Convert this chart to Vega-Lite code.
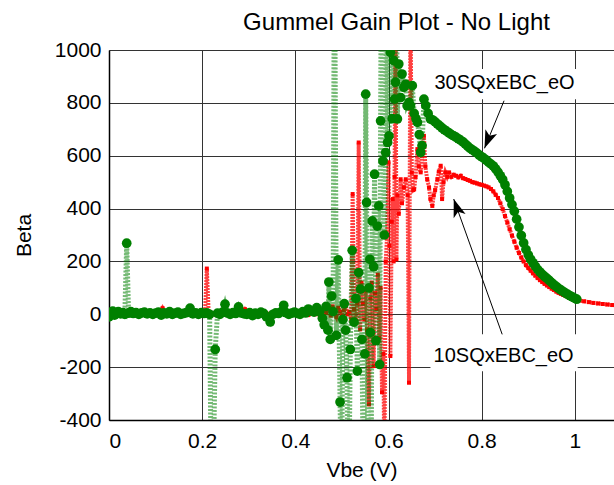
{
  "$schema": "https://vega.github.io/schema/vega-lite/v6.json",
  "autosize": "none",
  "width": 505,
  "height": 370,
  "padding": {"left": 109, "top": 50, "right": 0, "bottom": 65},
  "background": "white",
  "config": {
    "view": {"stroke": null},
    "font": "Liberation Sans",
    "axis": {
      "labelFont": "Liberation Sans", "labelFontSize": 21, "labelColor": "black",
      "titleFont": "Liberation Sans", "titleFontSize": 21, "titleFontWeight": "normal", "titleColor": "black",
      "ticks": false, "gridColor": "#333333", "gridOpacity": 1, "gridWidth": 1,
      "domainColor": "black", "domainWidth": 1.5
    }
  },
  "title": {"text": "Gummel Gain Plot - No Light", "font": "Liberation Sans", "fontSize": 24, "fontWeight": "normal", "color": "black", "anchor": "middle", "dx": 35, "offset": 4},
  "datasets": {
    "green": [
      {"x":0,"y":-10},{"x":0.004,"y":8},{"x":0.008,"y":12},{"x":0.012,"y":-3},{"x":0.016,"y":5},{"x":0.02,"y":10},{"x":0.025,"y":2},{"x":0.03,"y":6},{"x":0.034,"y":0},{"x":0.038,"y":269},{"x":0.042,"y":4},{"x":0.047,"y":10},{"x":0.052,"y":3},{"x":0.058,"y":6},{"x":0.064,"y":0},{"x":0.07,"y":5},{"x":0.076,"y":8},{"x":0.082,"y":2},{"x":0.088,"y":5},{"x":0.094,"y":0},{"x":0.1,"y":4},{"x":0.106,"y":8},{"x":0.112,"y":-3},{"x":0.118,"y":5},{"x":0.124,"y":2},{"x":0.13,"y":10},{"x":0.136,"y":0},{"x":0.142,"y":4},{"x":0.148,"y":8},{"x":0.154,"y":0},{"x":0.16,"y":3},{"x":0.166,"y":6},{"x":0.174,"y":23},{"x":0.18,"y":2},{"x":0.186,"y":5},{"x":0.192,"y":0},{"x":0.198,"y":6},{"x":0.204,"y":3},{"x":0.21,"y":5},{"x":0.216,"y":0},{"x":0.221,"y":-900},{"x":0.228,"y":-133},{"x":0.233,"y":4},{"x":0.238,"y":0},{"x":0.244,"y":8},{"x":0.249,"y":38},{"x":0.254,"y":5},{"x":0.26,"y":0},{"x":0.266,"y":6},{"x":0.272,"y":3},{"x":0.278,"y":28},{"x":0.284,"y":5},{"x":0.29,"y":2},{"x":0.296,"y":0},{"x":0.302,"y":6},{"x":0.308,"y":-5},{"x":0.314,"y":4},{"x":0.32,"y":0},{"x":0.326,"y":8},{"x":0.332,"y":3},{"x":0.338,"y":-10},{"x":0.346,"y":-29},{"x":0.352,"y":0},{"x":0.358,"y":5},{"x":0.364,"y":3},{"x":0.37,"y":10},{"x":0.375,"y":34},{"x":0.38,"y":6},{"x":0.386,"y":0},{"x":0.392,"y":4},{"x":0.398,"y":8},{"x":0.404,"y":3},{"x":0.41,"y":0},{"x":0.416,"y":10},{"x":0.422,"y":5},{"x":0.428,"y":20},{"x":0.434,"y":12},{"x":0.44,"y":8},{"x":0.446,"y":25},{"x":0.452,"y":10},
      {"x":0.458,"y":-15},{"x":0.462,"y":-40},{"x":0.466,"y":30},{"x":0.47,"y":-60},{"x":0.472,"y":122},{"x":0.475,"y":-95},{"x":0.478,"y":69},{"x":0.481,"y":10},{"x":0.484,"y":1500},{"x":0.488,"y":-80},{"x":0.492,"y":206},{"x":0.496,"y":-332},{"x":0.499,"y":-700},{"x":0.502,"y":-20},{"x":0.505,"y":40},{"x":0.508,"y":-60},{"x":0.511,"y":-240},{"x":0.514,"y":-800},{"x":0.518,"y":-133},{"x":0.522,"y":242},{"x":0.526,"y":-30},{"x":0.53,"y":60},{"x":0.533,"y":-215},{"x":0.536,"y":158},{"x":0.54,"y":95},{"x":0.543,"y":-95},{"x":0.546,"y":-700},{"x":0.549,"y":-150},{"x":0.551,"y":833},{"x":0.553,"y":423},{"x":0.556,"y":-700},{"x":0.558,"y":100},{"x":0.56,"y":208},{"x":0.561,"y":-69},{"x":0.563,"y":-500},{"x":0.565,"y":353},{"x":0.568,"y":180},{"x":0.57,"y":530},{"x":0.573,"y":-100},{"x":0.576,"y":334},{"x":0.579,"y":410},{"x":0.581,"y":-190},{"x":0.583,"y":732},{"x":0.585,"y":1500},{"x":0.588,"y":580},{"x":0.591,"y":300},{"x":0.594,"y":612},{"x":0.596,"y":1500},{"x":0.598,"y":650},{"x":0.601,"y":675},{"x":0.604,"y":991},{"x":0.606,"y":1500},{"x":0.608,"y":740},{"x":0.611,"y":960},{"x":0.613,"y":814},{"x":0.615,"y":878},{"x":0.617,"y":1300},{"x":0.619,"y":739},{"x":0.622,"y":947},{"x":0.626,"y":820},{"x":0.629,"y":909},{"x":0.633,"y":859},{"x":0.637,"y":871},{"x":0.64,"y":789},{"x":0.644,"y":802},{"x":0.647,"y":789},{"x":0.651,"y":865},{"x":0.655,"y":760},{"x":0.659,"y":740},{"x":0.662,"y":726},{"x":0.666,"y":680},{"x":0.669,"y":612},{"x":0.672,"y":638},{"x":0.676,"y":814},{"x":0.68,"y":790},
      {"x":0.685,"y":760},{"x":0.69,"y":739},{"x":0.695,"y":735},{"x":0.7,"y":728},{"x":0.705,"y":720},{"x":0.71,"y":713},{"x":0.715,"y":705},{"x":0.72,"y":698},{"x":0.725,"y":692},{"x":0.73,"y":686},{"x":0.735,"y":680},{"x":0.74,"y":675},{"x":0.745,"y":670},{"x":0.75,"y":664},{"x":0.755,"y":658},{"x":0.76,"y":652},{"x":0.765,"y":644},{"x":0.77,"y":636},{"x":0.775,"y":628},{"x":0.78,"y":622},{"x":0.785,"y":616},{"x":0.79,"y":610},{"x":0.795,"y":602},{"x":0.8,"y":596},{"x":0.805,"y":590},{"x":0.81,"y":583},{"x":0.815,"y":575},{"x":0.82,"y":568},{"x":0.825,"y":561},{"x":0.83,"y":550},{"x":0.835,"y":538},{"x":0.84,"y":524},{"x":0.845,"y":510},{"x":0.85,"y":490},{"x":0.855,"y":465},{"x":0.86,"y":440},{"x":0.865,"y":415},{"x":0.87,"y":390},{"x":0.875,"y":360},{"x":0.88,"y":330},{"x":0.885,"y":298},{"x":0.89,"y":270},{"x":0.895,"y":245},{"x":0.9,"y":225},{"x":0.905,"y":208},{"x":0.91,"y":195},{"x":0.915,"y":182},{"x":0.92,"y":170},{"x":0.925,"y":160},{"x":0.93,"y":151},{"x":0.935,"y":143},{"x":0.94,"y":136},{"x":0.945,"y":128},{"x":0.95,"y":120},{"x":0.955,"y":112},{"x":0.96,"y":105},{"x":0.965,"y":98},{"x":0.97,"y":92},{"x":0.975,"y":86},{"x":0.98,"y":80},{"x":0.985,"y":75},{"x":0.99,"y":70},{"x":0.995,"y":65},{"x":1.0,"y":60},{"x":1.004,"y":57}
    ],
    "red": [
      {"x":0,"y":0},{"x":0.006,"y":5},{"x":0.012,"y":-3},{"x":0.02,"y":4},{"x":0.028,"y":0},{"x":0.036,"y":6},{"x":0.044,"y":2},{"x":0.052,"y":-2},{"x":0.06,"y":3},{"x":0.068,"y":0},{"x":0.076,"y":5},{"x":0.084,"y":2},{"x":0.092,"y":-3},{"x":0.1,"y":4},{"x":0.108,"y":0},{"x":0.115,"y":23},{"x":0.122,"y":2},{"x":0.13,"y":-2},{"x":0.138,"y":3},{"x":0.146,"y":0},{"x":0.154,"y":5},{"x":0.162,"y":-2},{"x":0.17,"y":3},{"x":0.178,"y":0},{"x":0.186,"y":4},{"x":0.194,"y":-3},{"x":0.2,"y":2},{"x":0.206,"y":0},{"x":0.21,"y":173},{"x":0.214,"y":5},{"x":0.22,"y":-3},{"x":0.228,"y":2},{"x":0.236,"y":0},{"x":0.244,"y":5},{"x":0.252,"y":-2},{"x":0.26,"y":3},{"x":0.268,"y":0},{"x":0.276,"y":4},{"x":0.284,"y":-2},{"x":0.292,"y":19},{"x":0.3,"y":2},{"x":0.308,"y":-3},{"x":0.316,"y":4},{"x":0.324,"y":0},{"x":0.332,"y":5},{"x":0.34,"y":2},{"x":0.348,"y":-3},{"x":0.356,"y":3},{"x":0.364,"y":0},{"x":0.372,"y":4},{"x":0.38,"y":2},{"x":0.388,"y":-2},{"x":0.396,"y":3},{"x":0.404,"y":0},{"x":0.412,"y":5},{"x":0.42,"y":2},{"x":0.428,"y":-3},{"x":0.436,"y":4},{"x":0.444,"y":0},{"x":0.452,"y":6},{"x":0.46,"y":15},{"x":0.466,"y":5},
      {"x":0.472,"y":20},{"x":0.476,"y":-5},{"x":0.48,"y":30},{"x":0.484,"y":5},{"x":0.488,"y":-10},{"x":0.492,"y":25},{"x":0.496,"y":10},{"x":0.5,"y":-5},{"x":0.504,"y":15},{"x":0.508,"y":30},{"x":0.512,"y":0},{"x":0.516,"y":10},{"x":0.52,"y":-20},{"x":0.523,"y":455},{"x":0.526,"y":20},{"x":0.53,"y":-30},{"x":0.533,"y":40},{"x":0.536,"y":650},{"x":0.539,"y":-57},{"x":0.542,"y":120},{"x":0.545,"y":40},{"x":0.548,"y":-20},{"x":0.551,"y":90},{"x":0.554,"y":-60},{"x":0.558,"y":-341},{"x":0.561,"y":60},{"x":0.564,"y":120},{"x":0.568,"y":-196},{"x":0.571,"y":80},{"x":0.574,"y":20},{"x":0.577,"y":150},{"x":0.58,"y":-90},{"x":0.583,"y":100},{"x":0.586,"y":-295},{"x":0.589,"y":-150},{"x":0.591,"y":-600},{"x":0.594,"y":200},{"x":0.597,"y":300},{"x":0.6,"y":575},{"x":0.602,"y":259},{"x":0.604,"y":-158},{"x":0.607,"y":350},{"x":0.609,"y":436},{"x":0.611,"y":200},{"x":0.613,"y":520},{"x":0.615,"y":1200},{"x":0.617,"y":208},{"x":0.619,"y":450},{"x":0.622,"y":380},{"x":0.626,"y":511},{"x":0.629,"y":420},{"x":0.633,"y":480},{"x":0.637,"y":511},{"x":0.641,"y":450},{"x":0.644,"y":-259},{"x":0.647,"y":1200},{"x":0.65,"y":537},{"x":0.653,"y":470},{"x":0.655,"y":473},{"x":0.658,"y":520},{"x":0.662,"y":625},{"x":0.665,"y":560},{"x":0.669,"y":537},{"x":0.672,"y":600},{"x":0.676,"y":675},{"x":0.679,"y":560},{"x":0.683,"y":511},{"x":0.687,"y":480},{"x":0.69,"y":436},{"x":0.694,"y":410},{"x":0.697,"y":450},
      {"x":0.7,"y":470},{"x":0.705,"y":511},{"x":0.708,"y":540},{"x":0.712,"y":562},{"x":0.715,"y":436},{"x":0.718,"y":500},{"x":0.722,"y":537},{"x":0.726,"y":520},{"x":0.73,"y":537},{"x":0.735,"y":520},{"x":0.74,"y":528},{"x":0.745,"y":524},{"x":0.75,"y":518},{"x":0.755,"y":524},{"x":0.76,"y":515},{"x":0.765,"y":512},{"x":0.77,"y":508},{"x":0.775,"y":505},{"x":0.78,"y":500},{"x":0.785,"y":498},{"x":0.79,"y":495},{"x":0.795,"y":492},{"x":0.8,"y":490},{"x":0.805,"y":487},{"x":0.81,"y":484},{"x":0.815,"y":480},{"x":0.82,"y":474},{"x":0.825,"y":465},{"x":0.83,"y":452},{"x":0.835,"y":440},{"x":0.84,"y":420},{"x":0.845,"y":398},{"x":0.85,"y":372},{"x":0.855,"y":347},{"x":0.86,"y":322},{"x":0.865,"y":298},{"x":0.87,"y":275},{"x":0.875,"y":252},{"x":0.88,"y":232},{"x":0.885,"y":215},{"x":0.89,"y":200},{"x":0.895,"y":186},{"x":0.9,"y":175},{"x":0.905,"y":165},{"x":0.91,"y":155},{"x":0.915,"y":146},{"x":0.92,"y":137},{"x":0.925,"y":129},{"x":0.93,"y":122},{"x":0.935,"y":115},{"x":0.94,"y":109},{"x":0.945,"y":103},{"x":0.95,"y":97},{"x":0.955,"y":92},{"x":0.96,"y":86},{"x":0.965,"y":81},{"x":0.97,"y":77},{"x":0.975,"y":73},{"x":0.98,"y":69},{"x":0.985,"y":65},{"x":0.99,"y":62},{"x":0.995,"y":59},{"x":1.0,"y":56},{"x":1.01,"y":52},{"x":1.02,"y":49},{"x":1.03,"y":46},{"x":1.04,"y":43},{"x":1.05,"y":41},{"x":1.06,"y":39},{"x":1.07,"y":37},{"x":1.08,"y":35},{"x":1.09,"y":34}
    ],
    "boxes": [
      {"x":0.69,"x2":1.006,"y":928,"y2":814},
      {"x":0.69,"x2":1.006,"y":-76,"y2":-216}
    ],
    "labels": [
      {"x":0.849,"y":875,"text":"30SQxEBC_eO"},
      {"x":0.847,"y":-159,"text":"10SQxEBC_eO"}
    ],
    "arrows": [
      {"x":0.848,"y":808,"x2":0.806,"y2":628,"angle":202},
      {"x":0.844,"y":-76,"x2":0.74,"y2":436,"angle":341}
    ]
  },
  "encoding": {
    "x": {"field": "x", "type": "quantitative", "scale": {"domain": [0, 1.084], "nice": false, "zero": false},
      "axis": {"title": "Vbe (V)", "values": [0, 0.2, 0.4, 0.6, 0.8, 1], "format": "~g", "labelPadding": 10, "titlePadding": 8, "grid": true}},
    "y": {"field": "y", "type": "quantitative", "scale": {"domain": [-400, 1000], "nice": false, "zero": false},
      "axis": {"title": "Beta", "values": [-400, -200, 0, 200, 400, 600, 800, 1000], "labelExpr": "'' + datum.value", "labelPadding": 8, "titlePadding": 20, "grid": true}}
  },
  "layer": [
    {"data": {"name": "red"}, "mark": {"type": "line", "color": "#ff0000", "strokeWidth": 4, "strokeDash": [2, 1], "opacity": 0.75, "clip": true}},
    {"data": {"name": "red"}, "mark": {"type": "point", "shape": "square", "filled": true, "color": "#ff0000", "size": 16, "opacity": 1, "clip": true}},
    {"data": {"name": "green"}, "mark": {"type": "line", "color": "#008000", "strokeWidth": 5, "strokeDash": [2, 1.5], "opacity": 0.55, "clip": true}},
    {"data": {"name": "green"}, "mark": {"type": "point", "shape": "circle", "filled": true, "color": "#008000", "size": 95, "opacity": 1, "clip": true}},
    {"data": {"values": [{}]}, "mark": {"type": "rule", "color": "black", "strokeWidth": 1.5}, "encoding": {"y": {"datum": 1000}, "x": null}},
    {"data": {"name": "boxes"}, "mark": {"type": "rect", "color": "white", "opacity": 1}, "encoding": {"x2": {"field": "x2"}, "y2": {"field": "y2"}}},
    {"data": {"name": "labels"}, "mark": {"type": "text", "font": "Liberation Sans", "fontSize": 20, "color": "black", "align": "center", "baseline": "middle"}, "encoding": {"text": {"field": "text"}}},
    {"data": {"name": "arrows"}, "mark": {"type": "rule", "color": "black", "strokeWidth": 1}, "encoding": {"x2": {"field": "x2"}, "y2": {"field": "y2"}}},
    {"data": {"name": "arrows"}, "mark": {"type": "point", "shape": "M0,0 L0.7,2 L0,1.5 L-0.7,2 Z", "filled": true, "color": "black", "size": 324, "opacity": 1}, "encoding": {"x": {"field": "x2", "type": "quantitative"}, "y": {"field": "y2", "type": "quantitative"}, "angle": {"field": "angle", "type": "quantitative", "scale": null}}}
  ]
}
